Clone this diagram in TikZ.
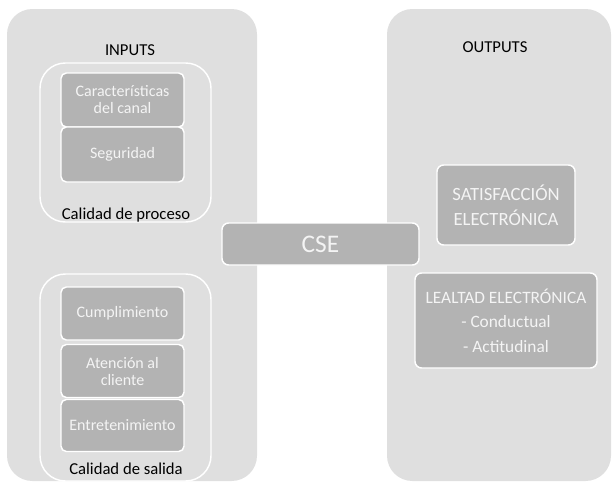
\documentclass[tikz,border=0pt]{standalone}
\usepackage{fontspec}
\setmainfont{Carlito}
\definecolor{panel}{HTML}{DFDFDF}
\definecolor{boxg}{HTML}{B3B3B3}
\definecolor{boxtext}{HTML}{F4F4F4}
\begin{document}
\begin{tikzpicture}[x=0.75pt,y=-0.75pt,
  panelbox/.style={fill=panel,draw=none,rounded corners=19pt,inner sep=0pt},
  groupbox/.style={fill=panel,draw=white,line width=1.1pt,rounded corners=19pt,inner sep=0pt},
  itembox/.style={fill=boxg,draw=white,line width=1.1pt,rounded corners=4pt,inner sep=0pt,align=center,text=boxtext,font=\fontsize{12}{12.75}\selectfont,minimum width=92.25pt},
  bigbox/.style={fill=boxg,draw=white,line width=1.1pt,rounded corners=5pt,inner sep=0pt,align=center,text=boxtext,font=\fontsize{13}{18.5}\selectfont},
  lbl/.style={text=black,font=\fontsize{12.5}{14}\selectfont}]
\useasboundingbox (0,0) rectangle (614,482);
\node[panelbox,minimum width=187.5pt,minimum height=354pt] (inputs) at (132,245) {};
\node[panelbox,minimum width=168pt,minimum height=354pt] (outputs) at (499,245) {};
\node[lbl] (inputslbl) at (130,50) {INPUTS};
\node[lbl] (outputslbl) at (495,47) {OUTPUTS};
\node[groupbox,minimum width=128.25pt,minimum height=119.25pt] (proceso) at (125.5,142.5) {};
\node[itembox,minimum height=40.5pt] (canal) at (122.5,100) {Características\\del canal};
\node[itembox,minimum height=41.25pt] (seg) at (122.5,154.5) {Seguridad};
\node[lbl] (proclbl) at (126,215) {Calidad de proceso};
\node[groupbox,minimum width=128.25pt,minimum height=155.25pt] (salida) at (125.5,377.5) {};
\node[itembox,minimum height=39.75pt] (cump) at (122.5,313.5) {Cumplimiento};
\node[itembox,minimum height=39.75pt] (aten) at (122.5,371) {Atención al\\cliente};
\node[itembox,minimum height=39pt] (entr) at (122.5,425.5) {Entretenimiento};
\node[lbl] (sallbl) at (126,469) {Calidad de salida};
\node[bigbox,minimum width=147.75pt,minimum height=31.5pt,font=\fontsize{19}{22}\selectfont] (cse) at (320.5,244) {CSE};
\node[bigbox,minimum width=103.5pt,minimum height=60pt,font=\fontsize{14}{18.75}\selectfont] (sat) at (506,205) {SATISFACCIÓN\\ELECTRÓNICA};
\node[bigbox,minimum width=136.5pt,minimum height=71.25pt] (leal) at (506,320.5) {LEALTAD ELECTRÓNICA\\- Conductual\\- Actitudinal};
\end{tikzpicture}
\end{document}
